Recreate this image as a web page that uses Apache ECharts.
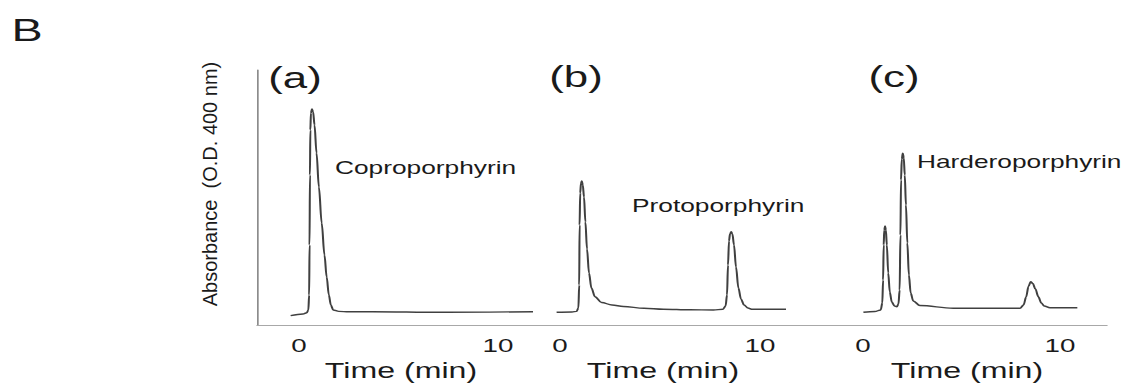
<!DOCTYPE html>
<html>
<head>
<meta charset="utf-8">
<script src="https://cdn.jsdelivr.net/npm/echarts@6/dist/echarts.min.js"></script>
<style>
  html, body { margin: 0; padding: 0; background: #ffffff; overflow: hidden; }
  #chart { width: 770px; height: 383px; transform-origin: 0 0; }
</style>
</head>
<body>
<div id="chart"></div>
<script>
// ---- Data (time in min, absorbance in arbitrary units) ----
const timeA = [-0.42, 0.2, 0.39, 0.47, 0.51, 0.53, 0.55, 0.57, 0.6, 0.65, 0.71, 0.78, 0.88, 1.0, 1.14, 1.28, 1.39, 1.5, 1.6, 1.72, 2.0, 2.5, 3.7, 7.1, 11.76];
const absA  = [9.3, 11, 12.3, 15, 30, 80, 150, 195, 212, 216, 213, 200, 172, 138, 102, 70, 48, 30, 20, 15, 13.6, 13.2, 13.3, 12.7, 13.3];

const timeB = [-0.17, 0.6, 0.83, 0.92, 0.96, 0.98, 1.01, 1.05, 1.09, 1.14, 1.2, 1.27, 1.35, 1.45, 1.57, 1.75, 2.08, 2.6, 3.17, 4.2, 5.17, 6.5, 7.67, 8.15, 8.28, 8.35, 8.4, 8.45, 8.5, 8.56, 8.62, 8.7, 8.8, 8.92, 9.05, 9.2, 9.4, 9.58, 11.3];
const absB  = [12.7, 13, 13.6, 17, 40, 100, 132, 142, 144, 140, 128, 103, 76, 52, 37, 28.3, 22.5, 20, 18.5, 16.8, 15.8, 15.2, 15, 15.8, 19, 30, 60, 84, 91, 93.3, 91, 80, 58, 37, 26, 20, 17, 15.8, 15.7];

const timeC = [0.02, 0.6, 0.9, 0.98, 1.02, 1.05, 1.08, 1.12, 1.16, 1.21, 1.28, 1.36, 1.46, 1.6, 1.72, 1.8, 1.86, 1.9, 1.93, 1.97, 2.02, 2.07, 2.12, 2.18, 2.25, 2.33, 2.42, 2.55, 2.89, 4.58, 7.97, 8.15, 8.28, 8.4, 8.51, 8.62, 8.75, 8.9, 9.05, 9.2, 9.49, 10.88];
const absC  = [12.7, 13.5, 15, 22, 45, 80, 95, 99, 95, 80, 52, 33, 23, 19, 18.3, 21, 35, 90, 145, 166, 171.7, 167, 150, 120, 82, 50, 32, 24, 19.5, 16.7, 16.7, 20, 28, 38.5, 43.3, 41.5, 36, 28.3, 22, 19, 17.3, 17.3];

const tickValues  = [0, 10];
const panelLabels = ['(a)', '(b)', '(c)'];
const peakLabels  = ['Coproporphyrin', 'Protoporphyrin', 'Harderoporphyrin'];
const xName = 'Time (min)';
const yName = 'Absorbance\u00a0 (O.D. 400 nm)';
const figLabel = 'B';

// ---- Layout (screen pixels of the 1125 x 383 picture) ----
const SX = 1125 / 770;               // horizontal stretch of the original figure
const FONT = "'Liberation Sans', Arial, Helvetica, sans-serif";
const TXT = '#1a1a1a';
const panels = [
  { left: 257, right: 545, zero: 299, ten: 498, lx: 295, ly: 78, ax: 335, ay: 168 },
  { left: 499, right: 827, zero: 560, ten: 760, lx: 576, ly: 77, ax: 632, ay: 206 },
  { left: 827, right: 1107, zero: 863, ten: 1060, lx: 894, ly: 77, ax: 917, ay: 162 }
];
const series = [[timeA, absA], [timeB, absB], [timeC, absC]];

document.getElementById('chart').style.transform = 'scaleX(' + SX + ')';
const chart = echarts.init(document.getElementById('chart'), null, { renderer: 'svg', width: 770, height: 383 });

const grids = [], xAxes = [], yAxes = [], seriesOpt = [], graphics = [];
panels.forEach((p, i) => {
  const perMin = (p.ten - p.zero) / 10;
  grids.push({ left: p.left / SX, width: (p.right - p.left) / SX, top: 70, height: 255,
               containLabel: false, outerBoundsMode: 'none' });
  xAxes.push({
    type: 'value', gridIndex: i,
    min: (p.left - p.zero) / perMin,
    max: (p.right - p.zero) / perMin,
    name: xName, nameLocation: 'middle', nameGap: 34,
    nameTextStyle: { fontSize: 22, color: TXT, fontFamily: FONT },
    axisLine: { show: true, onZero: false, lineStyle: { color: '#a8a8a8', width: 1 } },
    axisTick: { show: false },
    splitLine: { show: false },
    axisLabel: {
      customValues: tickValues, fontSize: 19, color: TXT, fontFamily: FONT, margin: 11,
      formatter: v => (tickValues.indexOf(v) >= 0 ? String(v) : '')
    }
  });
  yAxes.push({
    type: 'value', gridIndex: i, min: 0, max: 255, show: i === 0,
    axisLine: { show: true, onZero: false, lineStyle: { color: '#7a7a7a', width: 1 } },
    axisTick: { show: false }, axisLabel: { show: false }, splitLine: { show: false }
  });
  const [t, a] = series[i];
  seriesOpt.push({
    type: 'line', xAxisIndex: i, yAxisIndex: i,
    data: t.map((x, k) => [x, a[k]]),
    showSymbol: false, smooth: 0.35, smoothMonotone: 'x',
    lineStyle: { color: '#404040', width: 1.4 },
    silent: true, animation: false
  });
  graphics.push({
    type: 'text', x: p.lx / SX, y: p.ly,
    style: { text: panelLabels[i], fontSize: 30, fontFamily: FONT, fill: TXT,
             align: 'center', verticalAlign: 'middle', textAlign: 'center', textVerticalAlign: 'middle' }
  });
  graphics.push({
    type: 'text', x: p.ax / SX, y: p.ay,
    style: { text: peakLabels[i], fontSize: 18, fontFamily: FONT, fill: TXT,
             align: 'left', verticalAlign: 'middle', textAlign: 'left', textVerticalAlign: 'middle' }
  });
});

graphics.push({
  type: 'text', x: 27 / SX, y: 30,
  style: { text: figLabel, fontSize: 32, fontFamily: FONT, fill: TXT,
           align: 'center', verticalAlign: 'middle', textAlign: 'center', textVerticalAlign: 'middle' }
});
graphics.push({
  type: 'text', x: 210 / SX, y: 184, rotation: Math.PI / 2, scaleY: 1 / SX,
  style: { text: yName, fontSize: 20, fontFamily: FONT, fill: TXT,
           align: 'center', verticalAlign: 'middle', textAlign: 'center', textVerticalAlign: 'middle' }
});

chart.setOption({
  backgroundColor: '#ffffff',
  animation: false,
  grid: grids,
  xAxis: xAxes,
  yAxis: yAxes,
  series: seriesOpt,
  graphic: graphics
});
</script>
</body>
</html>
